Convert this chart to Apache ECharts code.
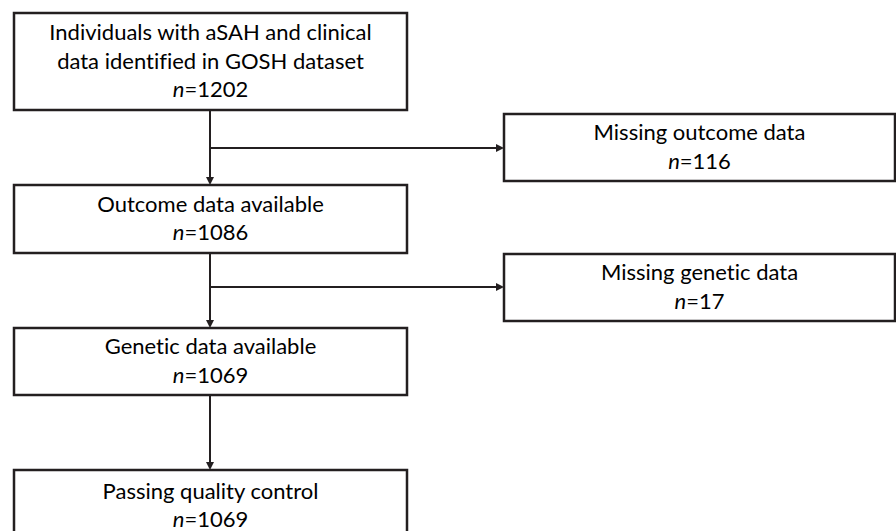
<!DOCTYPE html>
<html><head><meta charset="utf-8">
<script src="https://cdn.jsdelivr.net/npm/echarts@6/dist/echarts.min.js"></script>
<style>html,body{margin:0;padding:0;background:#fff}#c{width:896px;height:531px}#c text{font-variant-ligatures:none;font-feature-settings:"liga" 0}</style>
</head><body><div id="c"></div>
<script>
// Flow content
const stages = ['Individuals with aSAH and clinical\ndata identified in GOSH dataset', 'Outcome data available', 'Genetic data available', 'Passing quality control'];
const stageN = [1202, 1086, 1069, 1069];
const exclusions = ['Missing outcome data', 'Missing genetic data'];
const exclusionN = [116, 17];

// Layout (pixels in a 896x531 frame)
const mainX = [14, 407];
const mainY = [[13, 110], [185, 253], [328, 395], [470, 540]];
const sideX = [504, 895];
const sideY = [[114, 181], [254, 321]];
const trunkX = 210;
const branchY = [148, 287];

const FONT = 'Lato';
const INK = '#231f20';

function label(text, n) {
  const lines = text.split('\n').map(l => '{t|' + l + '}');
  lines.push('{i|n}{t|=' + n + '}');
  return lines.join('\n');
}

const boxData = [];
stages.forEach((s, i) => boxData.push([mainX[0], mainY[i][0], mainX[1], mainY[i][1], label(s, stageN[i])]));
exclusions.forEach((s, i) => boxData.push([sideX[0], sideY[i][0], sideX[1], sideY[i][1], label(s, exclusionN[i])]));

// connectors: [x1,y1,x2,y2]
const linkData = [];
for (let i = 0; i < stages.length - 1; i++) linkData.push([trunkX, mainY[i][1], trunkX, mainY[i + 1][0]]);
branchY.forEach((y, i) => linkData.push([trunkX, y, sideX[0], y]));

const chart = echarts.init(document.getElementById('c'), null, {renderer: 'svg'});
chart.setOption({
  animation: false,
  grid: {left: 0, right: 0, top: 0, bottom: 0},
  xAxis: {type: 'value', min: 0, max: 896, show: false},
  yAxis: {type: 'value', min: 0, max: 531, inverse: true, show: false},
  series: [
    {
      type: 'custom',
      clip: false,
      data: boxData,
      encode: {x: [0, 2], y: [1, 3]},
      renderItem: function (params, api) {
        const p1 = api.coord([api.value(0), api.value(1)]);
        const p2 = api.coord([api.value(2), api.value(3)]);
        const txt = boxData[params.dataIndex][4];
        const top = params.dataIndex === 3 ? p1[1] + 6 : null;
        return {
          type: 'group',
          children: [
            {type: 'rect', shape: {x: p1[0], y: p1[1], width: p2[0] - p1[0], height: p2[1] - p1[1]},
             style: {fill: '#fff', stroke: INK, lineWidth: 2.5}},
            {type: 'text', x: (p1[0] + p2[0]) / 2, y: top !== null ? top : (p1[1] + p2[1]) / 2 - 1.5,
             style: {text: txt, align: 'center', verticalAlign: top !== null ? 'top' : 'middle',
               rich: {
                 t: {fontFamily: FONT, fontSize: 22, color: INK, lineHeight: 28.5},
                 i: {fontFamily: FONT, fontSize: 22, fontStyle: 'italic', color: INK, lineHeight: 28.5}
               }}}
          ]
        };
      }
    },
    {
      type: 'custom',
      clip: false,
      data: linkData,
      encode: {x: [0, 2], y: [1, 3]},
      renderItem: function (params, api) {
        const a = api.coord([api.value(0), api.value(1)]);
        const b = api.coord([api.value(2), api.value(3)]);
        const dx = b[0] - a[0], dy = b[1] - a[1];
        const len = Math.sqrt(dx * dx + dy * dy);
        const ux = dx / len, uy = dy / len;
        const ah = 8, aw = 4;
        const base = [b[0] - ux * ah, b[1] - uy * ah];
        return {
          type: 'group',
          children: [
            {type: 'line', shape: {x1: a[0], y1: a[1], x2: base[0], y2: base[1]}, style: {stroke: INK, lineWidth: 2}},
            {type: 'polygon', shape: {points: [[b[0], b[1]], [base[0] - uy * aw, base[1] + ux * aw], [base[0] + uy * aw, base[1] - ux * aw]]},
             style: {fill: INK}}
          ]
        };
      }
    }
  ]
});
</script>
</body></html>
